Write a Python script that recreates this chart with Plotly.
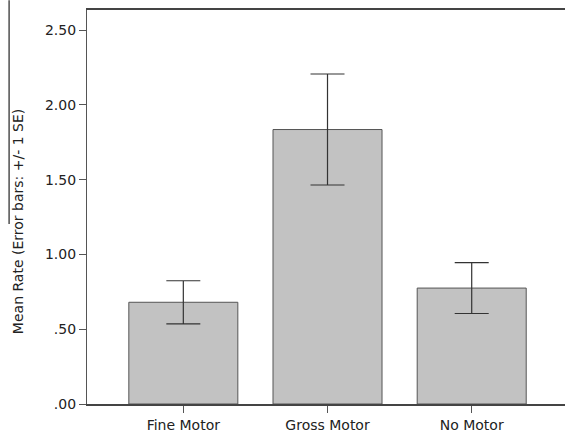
import plotly.graph_objects as go

categories = ["Fine Motor", "Gross Motor", "No Motor"]
means = [0.68, 1.835, 0.775]
se = [0.144, 0.371, 0.17]
tick_vals = [0, 0.5, 1.0, 1.5, 2.0, 2.5]
tick_text = [".00", ".50", "1.00", "1.50", "2.00", "2.50"]

fig = go.Figure()
fig.add_trace(go.Bar(
    x=list(range(len(categories))), y=means, width=0.756,
    marker=dict(color="#c2c2c2", line=dict(color="#555555", width=1)),
    error_y=dict(type="data", array=se, visible=True, color="#333333", thickness=1.2, width=17),
))

fig.update_layout(
    width=565, height=436,
    margin=dict(l=87, r=0, t=10, b=32),
    paper_bgcolor="white", plot_bgcolor="white",
    showlegend=False,
    font=dict(family="DejaVu Sans", size=14, color="#222222"),
    xaxis=dict(range=[-0.668, 2.647], tickvals=list(range(len(categories))), ticktext=categories,
               showgrid=False, zeroline=False, showline=True, linecolor="#444444", linewidth=1.5,
               mirror=True, ticks="outside", ticklen=7, tickcolor="#555555",
               tickfont=dict(size=14)),
    yaxis=dict(range=[0, 2.634], tickvals=tick_vals, ticktext=tick_text,
               showgrid=False, zeroline=False, showline=True, linecolor="#555555", linewidth=1.2,
               ticks="outside", ticklen=7, tickcolor="#555555", tickfont=dict(size=14)),
    shapes=[dict(type="line", xref="paper", yref="paper", x0=-0.163, x1=-0.163, y0=1.025, y1=0.457,
                 line=dict(color="#222222", width=1.2))],
    annotations=[dict(text="Mean Rate (Error bars: +/- 1 SE)", xref="paper", yref="paper",
                      x=-0.144, y=0.462, textangle=-90, showarrow=False,
                      font=dict(size=14, color="#222222"), xanchor="center", yanchor="middle")],
)

fig.write_html("out.html", config={"displayModeBar": False},
               post_script="document.body.style.margin='0';document.body.style.overflow='hidden';")
